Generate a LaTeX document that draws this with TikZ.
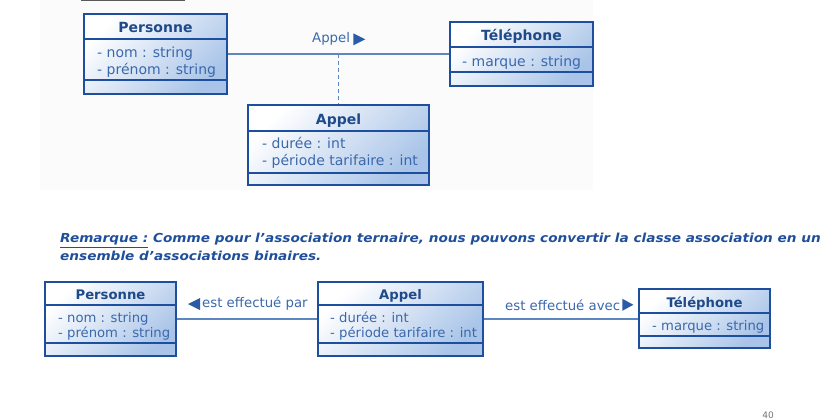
\documentclass[tikz,border=0pt]{standalone}
\usepackage{fontspec}
\setmainfont{DejaVu Sans}
\newfontfamily\remfont[FakeStretch=1.1]{DejaVu Sans}
\definecolor{umlborder}{HTML}{1E4F9E}
\definecolor{umlshade}{HTML}{A9C4E8}
\definecolor{umltitle}{HTML}{1F4A8A}
\definecolor{umlattr}{HTML}{3A68AD}
\definecolor{umlassoc}{HTML}{5B86C0}
\definecolor{umltri}{HTML}{2A5BA8}
\definecolor{remcol}{HTML}{1F4F9A}
\definecolor{bgfill}{HTML}{FBFBFB}
\begin{document}
\begin{tikzpicture}[x=1pt,y=-1pt,
  classbox/.style={draw=umlborder, line width=2pt, top color=white, bottom color=umlshade, shading angle=45, inner sep=0pt},
  sepline/.style={draw=umlborder, line width=1.3pt},
  ctitleA/.style={text=umltitle, font=\bfseries\fontsize{14}{17}\selectfont, anchor=base, inner sep=0pt},
  cattrA/.style={text=umlattr, font=\fontsize{14}{17}\selectfont, anchor=base west, inner sep=0pt},
  ctitleB/.style={text=umltitle, font=\bfseries\fontsize{13.2}{16}\selectfont, anchor=base, inner sep=0pt},
  cattrB/.style={text=umlattr, font=\fontsize{13.2}{16}\selectfont, anchor=base west, inner sep=0pt},
  assoc/.style={draw=umlassoc, line width=1.3pt},
  dashassoc/.style={draw=umlassoc, line width=1.3pt, dash pattern=on 4pt off 3pt},
  albl/.style={text=umlattr, font=\fontsize{13.3}{16}\selectfont, anchor=base west, inner sep=0pt},
  tri/.style={fill=umltri},
  remtext/.style={text=remcol, font=\remfont\bfseries\itshape\fontsize{12.4}{15}\selectfont, anchor=base west, inner sep=0pt}
]
\useasboundingbox (0,0) rectangle (837,419);
% background panel and heading underline
\fill[bgfill] (40,0) rectangle (593,190);
\draw[black!65, line width=1.3pt] (81,0.6) -- (185,0.6);

% ---------- top diagram ----------
\node[classbox, minimum width=143pt, minimum height=80pt] (pers1) at (155.5,54) {};
\node[classbox, minimum width=143pt, minimum height=64pt] (tel1) at (521.5,54) {};
\node[classbox, minimum width=181pt, minimum height=80pt] (appel1) at (338.5,145) {};

\draw[sepline] (pers1.west |- 0,39) -- (pers1.east |- 0,39);
\draw[sepline] (pers1.west |- 0,80) -- (pers1.east |- 0,80);
\draw[sepline] (tel1.west |- 0,47) -- (tel1.east |- 0,47);
\draw[sepline] (tel1.west |- 0,72) -- (tel1.east |- 0,72);
\draw[sepline] (appel1.west |- 0,131) -- (appel1.east |- 0,131);
\draw[sepline] (appel1.west |- 0,173) -- (appel1.east |- 0,173);

\node[ctitleA] (pers1t) at (155.5,33) {Personne};
\node[cattrA] (pers1a) at (97,58) {- nom : string};
\node[cattrA] (pers1b) at (97,75) {- prénom : string};
\node[ctitleA] (tel1t) at (521.5,41) {Téléphone};
\node[cattrA] (tel1a) at (462,67) {- marque : string};
\node[ctitleA] (appel1t) at (338.5,125) {Appel};
\node[cattrA] (appel1a) at (262,149) {- durée : int};
\node[cattrA] (appel1b) at (262,166) {- période tarifaire : int};

\draw[assoc] (pers1.east) -- (tel1.west);
\coordinate (amid) at (appel1.north |- pers1.east);
\draw[dashassoc] (amid) -- (appel1.north);
\node[albl] (lblA) at (312,43) {Appel};
\fill[tri] ([xshift=3pt,yshift=6pt]lblA.east) -- ++(0pt,-12pt) -- ++(12pt,6pt) -- cycle;

% ---------- remark ----------
\node[remtext] (rem1) at (60,243) {\underline{Remarque :} Comme pour l’association ternaire, nous pouvons convertir la classe association en un};
\node[remtext] (rem2) at (60,261) {ensemble d’associations binaires.};

% ---------- bottom diagram ----------
\node[classbox, minimum width=131pt, minimum height=74pt] (pers2) at (110.5,319) {};
\node[classbox, minimum width=165pt, minimum height=74pt] (appel2) at (400.5,319) {};
\node[classbox, minimum width=131pt, minimum height=59pt] (tel2) at (704.5,318.5) {};

\draw[sepline] (pers2.west |- 0,305) -- (pers2.east |- 0,305);
\draw[sepline] (pers2.west |- 0,343) -- (pers2.east |- 0,343);
\draw[sepline] (appel2.west |- 0,305) -- (appel2.east |- 0,305);
\draw[sepline] (appel2.west |- 0,343) -- (appel2.east |- 0,343);
\draw[sepline] (tel2.west |- 0,313) -- (tel2.east |- 0,313);
\draw[sepline] (tel2.west |- 0,336) -- (tel2.east |- 0,336);

\node[ctitleB] (pers2t) at (110.5,299) {Personne};
\node[cattrB] (pers2a) at (58,323) {- nom : string};
\node[cattrB] (pers2b) at (58,337) {- prénom : string};
\node[ctitleB] (appel2t) at (400.5,299) {Appel};
\node[cattrB] (appel2a) at (330,323) {- durée : int};
\node[cattrB] (appel2b) at (330,337) {- période tarifaire : int};
\node[ctitleB] (tel2t) at (704.5,307) {Téléphone};
\node[cattrB] (tel2a) at (652,330) {- marque : string};

\draw[assoc] (pers2.east) -- (appel2.west);
\draw[assoc] (appel2.east) -- (appel2.east -| tel2.west);
\node[albl] (lblB) at (202,308) {est effectué par};
\fill[tri] ([xshift=-2pt,yshift=6pt]lblB.west) -- ++(0pt,-12pt) -- ++(-12pt,6pt) -- cycle;
\node[albl] (lblC) at (505,310) {est effectué avec};
\fill[tri] ([xshift=2pt,yshift=6pt]lblC.east) -- ++(0pt,-12pt) -- ++(11pt,6pt) -- cycle;

% page number at the bottom edge
\node[text=black!55, font=\fontsize{9}{11}\selectfont, anchor=base, inner sep=0pt] (pagenum) at (768,418) {40};
\end{tikzpicture}
\end{document}
